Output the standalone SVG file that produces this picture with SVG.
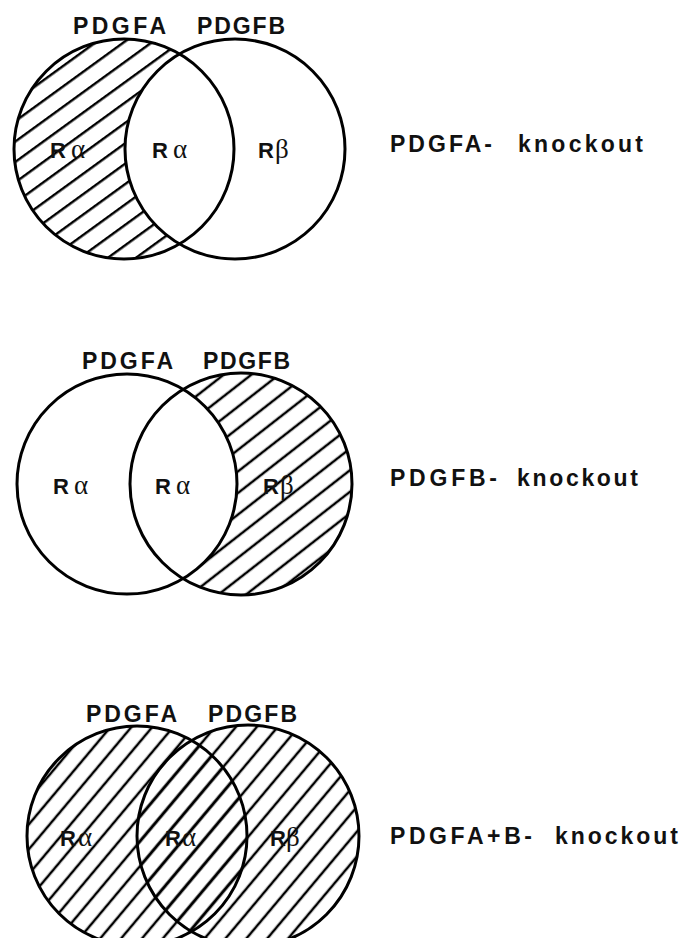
<svg xmlns="http://www.w3.org/2000/svg" width="683" height="938" viewBox="0 0 683 938">
<style>
.c{fill:none;stroke:#000;stroke-width:3}
.w{fill:#fff;stroke:none}
.t{font-family:"Liberation Sans",Arial,sans-serif;font-weight:bold;font-size:23px;fill:#111}
.k{font-family:"Liberation Sans",Arial,sans-serif;font-weight:bold;font-size:23px;fill:#111}
.r{font-family:"Liberation Sans",Arial,sans-serif;font-weight:bold;font-size:22px;fill:#111}
.g{font-family:"Liberation Serif","DejaVu Serif",serif;font-weight:normal;font-size:27px}
</style>
<defs>
<pattern id="h1" patternUnits="userSpaceOnUse" width="40" height="16.5" patternTransform="rotate(-36)">
<line x1="0" y1="8" x2="40" y2="8" stroke="#000" stroke-width="2.4"/>
</pattern>
<pattern id="h2" patternUnits="userSpaceOnUse" width="40" height="17" patternTransform="rotate(-38)">
<line x1="0" y1="8" x2="40" y2="8" stroke="#000" stroke-width="2.4"/>
</pattern>
<pattern id="h3" patternUnits="userSpaceOnUse" width="40" height="16" patternTransform="rotate(-50)">
<line x1="0" y1="8" x2="40" y2="8" stroke="#000" stroke-width="2.4"/>
</pattern>
</defs>

<g id="diagram-a">
<circle cx="124" cy="149" r="110" fill="url(#h1)"/>
<circle class="w" cx="235" cy="149" r="110"/>
<circle class="c" cx="124" cy="149" r="110"/>
<circle class="c" cx="235" cy="149" r="110"/>
<text class="t" x="73" y="34" textLength="93" lengthAdjust="spacing">PDGFA</text>
<text class="t" x="197" y="34" textLength="88" lengthAdjust="spacing">PDGFB</text>
<text class="r" x="50" y="158">R<tspan class="g" dx="5">α</tspan></text>
<text class="r" x="152" y="158">R<tspan class="g" dx="5">α</tspan></text>
<text class="r" x="258" y="158">R<tspan class="g" dx="1">β</tspan></text>
</g>
<g id="label-a">
<text class="k" x="390" y="152" textLength="102" lengthAdjust="spacing">PDGFA-</text>
<text class="k" x="518" y="152" textLength="125" lengthAdjust="spacing">knockout</text>
</g>

<g id="diagram-b">
<circle cx="241" cy="484" r="111" fill="url(#h2)"/>
<circle class="w" cx="127" cy="484" r="110"/>
<circle class="c" cx="127" cy="484" r="110"/>
<circle class="c" cx="241" cy="484" r="111"/>
<text class="t" x="82" y="369" textLength="91" lengthAdjust="spacing">PDGFA</text>
<text class="t" x="203" y="369" textLength="87" lengthAdjust="spacing">PDGFB</text>
<text class="r" x="53" y="494">R<tspan class="g" dx="5">α</tspan></text>
<text class="r" x="155" y="494">R<tspan class="g" dx="5">α</tspan></text>
<text class="r" x="263" y="494">R<tspan class="g" dx="1">β</tspan></text>
</g>
<g id="label-b">
<text class="k" x="390" y="486" textLength="107" lengthAdjust="spacing">PDGFB-</text>
<text class="k" x="517" y="486" textLength="121" lengthAdjust="spacing">knockout</text>
</g>

<g id="diagram-c">
<circle cx="137" cy="836" r="110" fill="url(#h3)"/>
<circle cx="248" cy="836" r="111" fill="url(#h3)"/>
<circle class="c" cx="137" cy="836" r="110"/>
<circle class="c" cx="248" cy="836" r="111"/>
<text class="t" x="86" y="722" textLength="91" lengthAdjust="spacing">PDGFA</text>
<text class="t" x="208" y="722" textLength="89" lengthAdjust="spacing">PDGFB</text>
<text class="r" x="60" y="846">R<tspan class="g" dx="2">α</tspan></text>
<text class="r" x="165" y="846">R<tspan class="g" dx="1">α</tspan></text>
<text class="r" x="270" y="846">R<tspan class="g" dx="0">β</tspan></text>
</g>
<g id="label-c">
<text class="k" x="390" y="844" textLength="142" lengthAdjust="spacing">PDGFA+B-</text>
<text class="k" x="555" y="844" textLength="123" lengthAdjust="spacing">knockout</text>
</g>
</svg>
